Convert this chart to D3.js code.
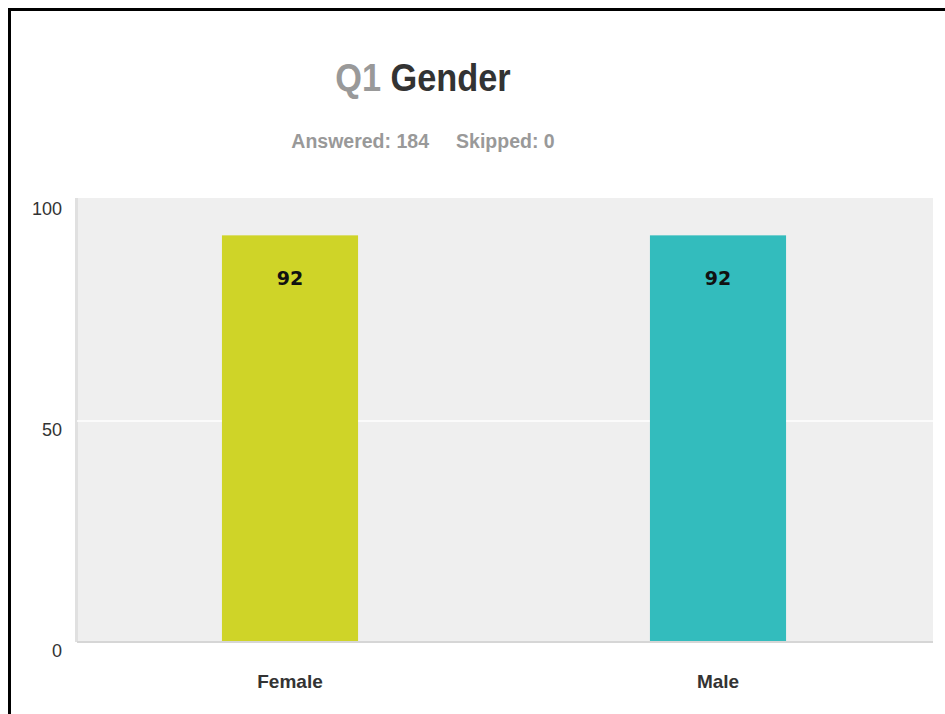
<!DOCTYPE html>
<html><head><meta charset="utf-8">
<script src="https://cdn.jsdelivr.net/npm/d3@7"></script>
<style>body{margin:0;background:#fff;} svg{display:block;}</style>
</head><body>
<svg id="c" width="945" height="714"></svg>
<script>
const categories = ["Female", "Male"];
const values = [92, 92];
const colors = ["#cfd428", "#33bcbd"];
const yTicks = [0, 50, 100];
const titleNum = "Q1";
const titleText = "Gender";
const subtitle = ["Answered: 184", "Skipped: 0"];

const svg = d3.select("#c");
const font = "'Liberation Sans',Arial,sans-serif";
svg.append("rect").attr("x", 9.5).attr("y", 9.5).attr("width", 945).attr("height", 714)
  .attr("fill", "none").attr("stroke", "#000").attr("stroke-width", 3);

const m = {left: 77, right: 933, top: 198, bottom: 642};
const x = d3.scaleBand().domain(categories).range([m.left - 1, m.right - 1]).paddingInner(0.682).paddingOuter(0.341);
const y = d3.scaleLinear().domain([0, 100]).range([m.bottom, 200]);

svg.append("rect").attr("x", m.left).attr("y", m.top).attr("width", m.right - m.left).attr("height", m.bottom - m.top).attr("fill", "#efefef");
svg.append("line").attr("x1", m.left - 0.5).attr("x2", m.left - 0.5).attr("y1", m.top).attr("y2", m.bottom).attr("stroke", "#e0e0e0").attr("stroke-width", 3);

svg.selectAll("line.grid").data(yTicks.filter(d => d > 0 && d < 100)).enter().append("line")
  .attr("x1", m.left).attr("x2", m.right).attr("y1", d => y(d)).attr("y2", d => y(d))
  .attr("stroke", "#fff").attr("stroke-width", 1.5);

const yAxis = svg.append("g").attr("transform", `translate(${m.left},0)`)
  .call(d3.axisLeft(y).tickValues(yTicks).tickSize(0).tickPadding(15));
yAxis.select(".domain").remove();
yAxis.selectAll("text").attr("font-family", font).attr("font-size", 18).attr("fill", "#333").attr("dy", "0.8em");

svg.selectAll("rect.bar").data(values).enter().append("rect")
  .attr("x", (d, i) => x(categories[i])).attr("width", x.bandwidth())
  .attr("y", d => y(d)).attr("height", d => y(0) - y(d)).attr("fill", (d, i) => colors[i]);

svg.selectAll("text.val").data(values).enter().append("text")
  .attr("x", (d, i) => x(categories[i]) + x.bandwidth() / 2).attr("y", d => y(d) + 50)
  .attr("text-anchor", "middle").attr("font-family", "'DejaVu Sans',sans-serif").attr("font-weight", "bold")
  .attr("font-size", 19).attr("fill", "#111").text(d => d);

svg.append("line").attr("x1", m.left).attr("x2", m.right).attr("y1", m.bottom).attr("y2", m.bottom)
  .attr("stroke", "#d6d6d6").attr("stroke-width", 2);

const xAxis = svg.append("g").attr("transform", `translate(0,${m.bottom})`)
  .call(d3.axisBottom(x).tickSize(0).tickPadding(33));
xAxis.select(".domain").remove();
xAxis.selectAll("text").attr("font-family", font).attr("font-weight", "bold").attr("font-size", 19).attr("fill", "#333");

const tg = svg.append("g").attr("transform", "translate(423,91) scale(0.88,1)");
const t = tg.append("text").attr("x", 0).attr("y", 0).attr("text-anchor", "middle")
  .attr("font-family", font).attr("font-weight", "bold").attr("font-size", 39);
t.append("tspan").attr("fill", "#999").text(titleNum);
t.append("tspan").attr("fill", "#333").text(" " + titleText);

svg.append("text").attr("x", 423).attr("y", 148).attr("text-anchor", "middle")
  .attr("font-family", font).attr("font-weight", "bold").attr("font-size", 19.5).attr("fill", "#999")
  .attr("xml:space", "preserve").text(subtitle.join("     "));
</script>
</body></html>
